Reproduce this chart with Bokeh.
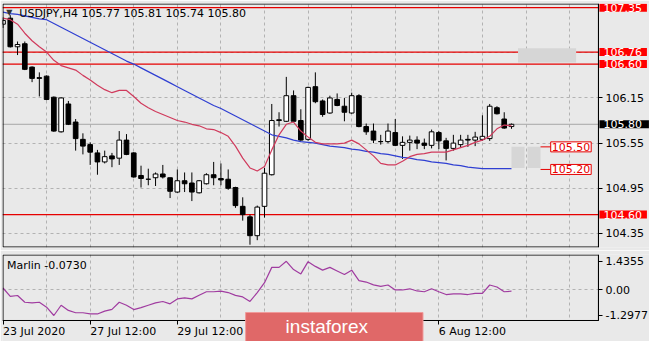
from bokeh.plotting import figure
from bokeh.models import Range1d, FixedTicker, Label, Span, PrintfTickFormatter, BoxAnnotation
from bokeh.layouts import column
from bokeh.embed import file_html
from bokeh.resources import INLINE

# ---------------- data ----------------
bar_index = list(range(71))
opens = [107.13, 107.21, 106.83, 106.87, 106.56, 106.42, 106.44, 106.16, 105.70, 106.07,
         105.83, 105.60, 105.53, 105.42, 105.30, 105.38, 105.35, 105.59, 105.42, 105.12,
         105.07, 105.09, 105.14, 105.09, 104.90, 105.05, 105.02, 104.89, 105.01, 105.13,
         105.08, 105.07, 104.96, 104.71, 104.57, 104.32, 104.71, 105.13, 105.86, 105.84,
         106.18, 105.85, 105.60, 106.30, 106.11, 105.95, 106.13, 106.04, 105.95, 106.18,
         105.77, 105.71, 105.57, 105.57, 105.69, 105.52, 105.56, 105.59, 105.55, 105.52,
         105.69, 105.58, 105.48, 105.53, 105.60, 105.59, 105.60, 105.61, 106.02, 105.87,
         105.77]
highs = [107.22, 107.25, 106.90, 106.90, 106.57, 106.49, 106.45, 106.17, 106.16, 106.11,
         105.87, 105.68, 105.56, 105.46, 105.45, 105.42, 105.71, 105.67, 105.43, 105.25,
         105.21, 105.16, 105.26, 105.09, 105.20, 105.16, 105.16, 105.06, 105.15, 105.30,
         105.28, 105.20, 104.97, 104.83, 104.60, 104.72, 105.22, 106.07, 105.96, 106.43,
         106.25, 106.00, 106.30, 106.49, 106.13, 106.18, 106.21, 106.15, 106.22, 106.20,
         105.81, 105.81, 105.66, 105.81, 105.87, 105.64, 105.65, 105.64, 105.61, 105.73,
         105.71, 105.62, 105.66, 105.66, 105.66, 105.70, 105.92, 106.07, 106.04, 105.96,
         105.81]
lows = [107.08, 106.82, 106.72, 106.52, 106.36, 106.17, 106.12, 105.70, 105.69, 105.79,
        105.45, 105.40, 105.26, 105.13, 105.28, 105.23, 105.26, 105.39, 105.09, 104.96,
        104.99, 104.98, 105.08, 104.82, 104.89, 104.90, 104.78, 104.88, 105.00, 104.99,
        104.99, 104.93, 104.69, 104.52, 104.20, 104.26, 104.56, 105.12, 105.77, 105.83,
        105.83, 105.58, 105.58, 106.08, 105.90, 105.94, 106.04, 105.84, 105.94, 105.76,
        105.66, 105.55, 105.53, 105.55, 105.51, 105.34, 105.45, 105.47, 105.47, 105.48,
        105.47, 105.32, 105.45, 105.49, 105.50, 105.51, 105.58, 105.58, 105.93, 105.74,
        105.74]
closes = [107.18, 106.83, 106.86, 106.53, 106.41, 106.41, 106.13, 105.71, 106.15, 105.80,
          105.61, 105.51, 105.43, 105.30, 105.37, 105.34, 105.59, 105.40, 105.10, 105.08,
          105.07, 105.14, 105.10, 104.91, 105.05, 105.01, 104.90, 105.05, 105.13, 105.09,
          105.06, 104.95, 104.72, 104.60, 104.32, 104.70, 105.15, 105.85, 105.85, 106.18,
          105.84, 105.59, 106.29, 106.10, 105.93, 106.15, 106.05, 105.96, 106.18, 105.77,
          105.70, 105.59, 105.57, 105.71, 105.52, 105.56, 105.59, 105.55, 105.52, 105.70,
          105.58, 105.48, 105.55, 105.59, 105.59, 105.63, 105.64, 106.04, 105.94, 105.75,
          105.80]
ma_fast = [107.21, 107.19, 107.13, 107.01, 106.91, 106.83, 106.76, 106.65, 106.58, 106.55,
           106.52, 106.45, 106.39, 106.32, 106.26, 106.22, 106.25, 106.25, 106.17, 106.08,
           106.02, 105.97, 105.93, 105.89, 105.85, 105.83, 105.80, 105.78, 105.74, 105.73,
           105.69, 105.64, 105.51, 105.35, 105.22, 105.18, 105.24, 105.46, 105.66, 105.80,
           105.83, 105.71, 105.63, 105.56, 105.54, 105.54, 105.54, 105.55, 105.59, 105.54,
           105.46, 105.38, 105.28, 105.26, 105.26, 105.31, 105.37, 105.40, 105.41, 105.43,
           105.43, 105.43, 105.46, 105.49, 105.52, 105.56, 105.59, 105.64, 105.74, 105.79,
           105.78]
ma_slow = [107.29, 107.27, 107.26, 107.24, 107.22, 107.20, 107.19, 107.14, 107.09, 107.04,
           106.99, 106.94, 106.89, 106.84, 106.79, 106.74, 106.69, 106.64, 106.60, 106.55,
           106.50, 106.45, 106.40, 106.35, 106.30, 106.25, 106.20, 106.15, 106.10, 106.05,
           106.01, 105.96, 105.91, 105.86, 105.81, 105.76, 105.71, 105.66, 105.64, 105.62,
           105.59, 105.57, 105.56, 105.55, 105.53, 105.51, 105.50, 105.49, 105.47, 105.46,
           105.44, 105.43, 105.41, 105.40, 105.38, 105.36, 105.35, 105.33, 105.32, 105.30,
           105.29, 105.28, 105.26, 105.25, 105.23, 105.22, 105.21, 105.21, 105.21, 105.21,
           105.21]
marlin = [0.09, -0.33, -0.29, -0.63, -0.66, -0.63, -0.88, -1.2977, -0.78, -1.04,
          -1.16, -1.16, -1.22, -1.22, -1.08, -0.99, -0.63, -0.78, -1.00, -0.90,
          -0.78, -0.66, -0.59, -0.71, -0.46, -0.41, -0.46, -0.28, -0.10, -0.10,
          -0.07, -0.14, -0.28, -0.36, -0.59, -0.14, 0.36, 1.13, 1.13, 1.4355,
          1.02, 0.80, 1.42, 1.18, 0.99, 1.13, 0.95, 0.77, 0.99, 0.46,
          0.39, 0.25, 0.17, 0.24, -0.01, -0.01, 0.05, -0.06, -0.10, 0.05,
          -0.10, -0.24, -0.21, -0.21, -0.24, -0.18, -0.18, 0.24, 0.14, -0.10,
          -0.073]

level_lines = [107.35, 106.76, 106.60, 104.60]
target_levels = [105.50, 105.20]
last_price = 105.80
price_ticks = [104.35, 104.95, 105.55, 106.15]
price_grid = [104.35, 104.95, 105.55, 106.15, 106.75]
marlin_ticks = [-1.2977, 0.0, 1.4355]
marlin_tick_labels = ["-1.2977", "0.00", "1.4355"]
grid_bars = [6, 12, 18, 24, 30, 36, 42, 48, 54, 60, 66, 72, 78]
time_tick_bars = [0, 12, 24, 36, 48, 60]
time_label_bars = [0, 12, 24, 60]
time_labels = ["23 Jul 2020", "27 Jul 12:00", "29 Jul 12:00", "6 Aug 12:00"]
zone_left = [70.9, 70.0, 72.2]
zone_right = [78.9, 71.8, 74.0]
zone_top = [106.81, 105.50, 105.50]
zone_bottom = [106.62, 105.22, 105.22]
header = "USDJPY,H4  105.77 105.81 105.74 105.80"
marlin_title = "Marlin -0.0730"

# ---------------- layout / style ----------------
BG = "#e9e9e9"
FONT = "DejaVu Sans"
FS = "11px"
RED = "#e60000"

W = 649
X0, PANEL_R, X1 = -0.07, 81.97, 89.0        # bar units: frame left, panel right edge, frame right
P1_H, P1_TOP, P1_BOT = 250, 3, 3
Y1_LO, Y1_HI = 104.163, 107.405
P2_H, P2_TOP = 91, 4
M_LO, M_HI, Y2_LO = -1.55, 1.78, -2.61       # marlin panel bottom/top, frame bottom

xpx = (X1 - X0) / (W - 2)                    # bar units per pixel
y1px = (Y1_HI - Y1_LO) / (P1_H - P1_TOP - P1_BOT)
y2px = (M_HI - Y2_LO) / (P2_H - P2_TOP)

xr = Range1d(X0, X1)
p1 = figure(width=W, height=P1_H, x_range=xr, y_range=Range1d(Y1_LO, Y1_HI),
            output_backend="svg", toolbar_location=None, title=None,
            x_axis_location=None, y_axis_location="right",
            min_border_left=2, min_border_right=0, min_border_top=P1_TOP, min_border_bottom=P1_BOT)
p2 = figure(width=W, height=P2_H, x_range=xr, y_range=Range1d(Y2_LO, M_HI),
            output_backend="svg", toolbar_location=None, title=None,
            y_axis_location="right",
            min_border_left=2, min_border_right=0, min_border_top=P2_TOP, min_border_bottom=0)

for p in (p1, p2):
    p.background_fill_color = BG
    p.border_fill_color = BG
    p.outline_line_color = None
    p.xgrid.ticker = FixedTicker(ticks=grid_bars)
    for g in (p.xgrid, p.ygrid):
        g.grid_line_color = "#b2b2b2"
        g.grid_line_dash = "3 3"
        g.grid_line_width = 1
    ax = p.yaxis[0]
    ax.fixed_location = PANEL_R
    ax.axis_line_color = "black"
    ax.major_tick_out = 4
    ax.major_tick_in = 0
    ax.minor_tick_line_color = None
    ax.major_label_standoff = 3
    ax.major_label_text_font = FONT
    ax.major_label_text_font_size = FS
    ax.major_label_text_color = "black"

# ---------- price panel ----------
p1.yaxis.ticker = FixedTicker(ticks=price_ticks)
p1.yaxis.formatter = PrintfTickFormatter(format="%.2f")
p1.ygrid.ticker = FixedTicker(ticks=price_grid)

p1.add_layout(Span(location=last_price, dimension="width", line_color="#a8a8a8",
                   line_width=1, level="underlay"))
for lv in level_lines:
    p1.add_layout(Span(location=lv, dimension="width", line_color=RED, line_width=1.3,
                       level="underlay"))
# background over the price-scale strip (hides grid / lines beyond the panel edge)
p1.add_layout(BoxAnnotation(left=PANEL_R, fill_color=BG, fill_alpha=1, line_color=None,
                            level="underlay"))

p1.quad(left=zone_left, right=zone_right, top=zone_top, bottom=zone_bottom,
        fill_color="#d6d6d6", line_color=None)

body_top = [max(o, c) for o, c in zip(opens, closes)]
body_bot = [min(o, c) for o, c in zip(opens, closes)]
body_fill = ["black" if c < o else "white" for o, c in zip(opens, closes)]
p1.segment(x0=bar_index, y0=lows, x1=bar_index, y1=highs, line_color="black", line_width=1)
p1.vbar(x=bar_index, width=0.64, top=body_top, bottom=body_bot,
        fill_color=body_fill, line_color="black", line_width=1)

p1.line(bar_index, ma_slow, line_color="#2f3fd2", line_width=1.2)
p1.line(bar_index, ma_fast, line_color="#d03a5c", line_width=1.2)

for t in target_levels:
    p1.segment(x0=[74.0], y0=[t], x1=[75.4], y1=[t], line_color=RED, line_width=1)
    p1.add_layout(Label(x=75.4, y=t, text=f"{t:.2f}", text_align="left",
                        text_baseline="middle", text_color=RED, text_font=FONT,
                        text_font_size=FS, background_fill_color="white",
                        border_line_color=RED, border_line_width=1,
                        padding=dict(left=1, right=1, top=1, bottom=1)))

# panel frame
p1.add_layout(BoxAnnotation(left=X0 + 0.5 * xpx, right=PANEL_R,
                            top=Y1_HI - 0.5 * y1px, bottom=Y1_LO + 0.5 * y1px,
                            fill_alpha=0, line_color="black", line_alpha=1, line_width=1))

x_out = PANEL_R + 1.0 * xpx
for lv in level_lines:
    p1.add_layout(Label(x=x_out, y=lv, text=f"{lv:.2f}", text_align="left",
                        text_baseline="middle", text_color="white", text_font=FONT,
                        text_font_size=FS, background_fill_color="#ff0000",
                        padding=dict(left=4, right=5, top=0, bottom=0)))
p1.add_layout(Label(x=x_out, y=last_price, text=f"{last_price:.2f}", text_align="left",
                    text_baseline="middle", text_color="white", text_font=FONT,
                    text_font_size=FS, background_fill_color="black",
                    padding=dict(left=4, right=7, top=0, bottom=0)))

p1.add_layout(Label(x=0.45, y=107.285, text="\u25BC", text_align="left",
                    text_baseline="middle", text_color="#333333", text_font=FONT,
                    text_font_size="8px"))
p1.add_layout(Label(x=2.25, y=107.275, text=header, text_align="left",
                    text_baseline="middle", text_color="black", text_font=FONT,
                    text_font_size=FS))

# ---------- Marlin panel ----------
p2.yaxis.ticker = FixedTicker(ticks=marlin_ticks)
p2.yaxis.major_label_overrides = {k: v for k, v in zip(marlin_ticks, marlin_tick_labels)}
p2.yaxis.bounds = (M_LO, M_HI)
p2.ygrid.ticker = FixedTicker(ticks=[0.0])

p2.add_layout(BoxAnnotation(left=PANEL_R, fill_color=BG, fill_alpha=1, line_color=None,
                            level="underlay"))
p2.add_layout(BoxAnnotation(top=M_LO, fill_color=BG, fill_alpha=1, line_color=None,
                            level="underlay"))

p2.line(bar_index, marlin, line_color="#a03ca0", line_width=1.2)

p2.add_layout(BoxAnnotation(left=X0 + 0.5 * xpx, right=PANEL_R,
                            top=M_HI - 0.5 * y2px, bottom=M_LO,
                            fill_alpha=0, line_color="black", line_alpha=1, line_width=1))
p2.add_layout(Label(x=0.55, y=1.225, text=marlin_title, text_align="left",
                    text_baseline="middle", text_color="black", text_font=FONT,
                    text_font_size=FS))

xa = p2.xaxis[0]
xa.fixed_location = M_LO
xa.bounds = (X0, PANEL_R)
xa.ticker = FixedTicker(ticks=time_tick_bars)
xa.major_label_overrides = {b: "" for b in time_tick_bars}
xa.axis_line_color = "black"
xa.major_tick_out = 4
xa.major_tick_in = 0
xa.minor_tick_line_color = None
xa.major_label_text_font_size = "1px"
for b, lab in zip(time_label_bars, time_labels):
    p2.add_layout(Label(x=b, y=M_LO - 5 * y2px, text=lab, text_align="left",
                        text_baseline="top", text_color="black", text_font=FONT,
                        text_font_size=FS))

# watermark
p2.add_layout(Label(x=33.4, y=M_LO + 8 * y2px, text="instaforex", text_align="left",
                    text_baseline="top", text_color="white", text_font="Liberation Sans",
                    text_font_size="19px", background_fill_color="#e06868",
                    border_line_color="#f09a9a", border_line_width=1,
                    padding=dict(left=40, right=55, top=4, bottom=6)))

layout = column(p1, p2, spacing=0)
open("out.html", "w").write(file_html(layout, INLINE))
